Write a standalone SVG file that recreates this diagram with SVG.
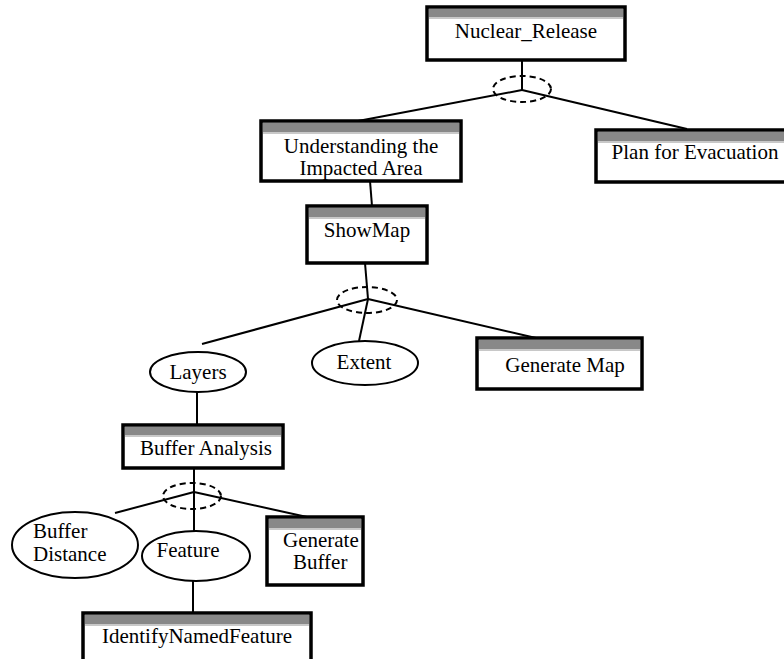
<svg xmlns="http://www.w3.org/2000/svg" width="784" height="659" viewBox="0 0 784 659">
<style>
.box{fill:#fff;stroke:#000;stroke-width:3.5}
.band{fill:#888}
.band2{fill:#c8c8c8}
.ell{fill:#fff;stroke:#000;stroke-width:2}
.and{fill:none;stroke:#000;stroke-width:2;stroke-dasharray:6 4}
.ln{stroke:#000;stroke-width:2;fill:none}
.c{text-anchor:middle}
</style>
<rect width="784" height="659" fill="#fff"/>
<g id="connectors">
<line class="ln" x1="522" y1="60" x2="522" y2="90"/>
<line class="ln" x1="522" y1="90" x2="358" y2="121"/>
<line class="ln" x1="522" y1="90" x2="687" y2="129"/>
<ellipse class="and" cx="522" cy="89" rx="29" ry="13"/>
<line class="ln" x1="370" y1="181" x2="372" y2="206"/>
<line class="ln" x1="365" y1="263" x2="368" y2="299"/>
<line class="ln" x1="368" y1="299" x2="202" y2="344"/>
<line class="ln" x1="368" y1="299" x2="359" y2="341"/>
<line class="ln" x1="368" y1="299" x2="536" y2="338"/>
<ellipse class="and" cx="367" cy="300" rx="30" ry="13"/>
<line class="ln" x1="197" y1="392" x2="197" y2="425"/>
<line class="ln" x1="194" y1="468" x2="194" y2="492"/>
<line class="ln" x1="194" y1="492" x2="115" y2="513"/>
<line class="ln" x1="194" y1="492" x2="194" y2="531"/>
<line class="ln" x1="194" y1="492" x2="307" y2="517"/>
<ellipse class="and" cx="192" cy="496" rx="29" ry="13"/>
<line class="ln" x1="193" y1="581" x2="193" y2="613"/>
</g>
<g font-family="'Liberation Serif', 'DejaVu Serif', 'Times New Roman', serif" font-size="21" fill="#000">
<g id="nuclear_release">
<rect class="box" x="427" y="7" width="198" height="53"/>
<rect class="band" x="429" y="9" width="194" height="8"/>
<rect class="band2" x="429" y="17" width="194" height="2"/>
<text class="c" x="526" y="38">Nuclear_Release</text>
</g>
<g id="understanding">
<rect class="box" x="261" y="121" width="200" height="60"/>
<rect class="band" x="263" y="123" width="196" height="9"/>
<rect class="band2" x="263" y="132" width="196" height="2"/>
<text class="c" x="361" y="153">Understanding the</text>
<text class="c" x="361" y="175">Impacted Area</text>
</g>
<g id="plan_evacuation">
<rect class="box" x="596" y="130" width="200" height="52"/>
<rect class="band" x="598" y="132" width="196" height="9"/>
<rect class="band2" x="598" y="141" width="196" height="2"/>
<text class="c" x="695" y="159">Plan for Evacuation</text>
</g>
<g id="showmap">
<rect class="box" x="307" y="206" width="120" height="57"/>
<rect class="band" x="309" y="208" width="116" height="9"/>
<rect class="band2" x="309" y="217" width="116" height="2"/>
<text class="c" x="367" y="237">ShowMap</text>
</g>
<g id="layers">
<ellipse class="ell" cx="198" cy="372" rx="48" ry="20"/>
<text class="c" x="198" y="379">Layers</text>
</g>
<g id="extent">
<ellipse class="ell" cx="365" cy="363" rx="53" ry="22"/>
<text class="c" x="364" y="369">Extent</text>
</g>
<g id="generate_map">
<rect class="box" x="477" y="338" width="165" height="51"/>
<rect class="band" x="479" y="340" width="161" height="9"/>
<rect class="band2" x="479" y="349" width="161" height="2"/>
<text class="c" x="565" y="372">Generate Map</text>
</g>
<g id="buffer_analysis">
<rect class="box" x="123" y="425" width="160" height="43"/>
<rect class="band" x="125" y="427" width="156" height="8"/>
<rect class="band2" x="125" y="435" width="156" height="2"/>
<text class="c" x="206" y="455">Buffer Analysis</text>
</g>
<g id="buffer_distance">
<ellipse class="ell" cx="75" cy="545" rx="63" ry="33"/>
<text x="33" y="538">Buffer</text>
<text x="33" y="561">Distance</text>
</g>
<g id="feature">
<ellipse class="ell" cx="196" cy="556" rx="54" ry="25"/>
<text class="c" x="188" y="557">Feature</text>
</g>
<g id="generate_buffer">
<rect class="box" x="267" y="517" width="96" height="68"/>
<rect class="band" x="269" y="519" width="92" height="9"/>
<rect class="band2" x="269" y="528" width="92" height="2"/>
<text x="283" y="547">Generate</text>
<text x="293" y="569">Buffer</text>
</g>
<g id="identify_named_feature">
<rect class="box" x="83" y="613" width="228" height="55"/>
<rect class="band" x="85" y="615" width="224" height="9"/>
<rect class="band2" x="85" y="624" width="224" height="2"/>
<text class="c" x="197" y="643">IdentifyNamedFeature</text>
</g>
</g>
</svg>
